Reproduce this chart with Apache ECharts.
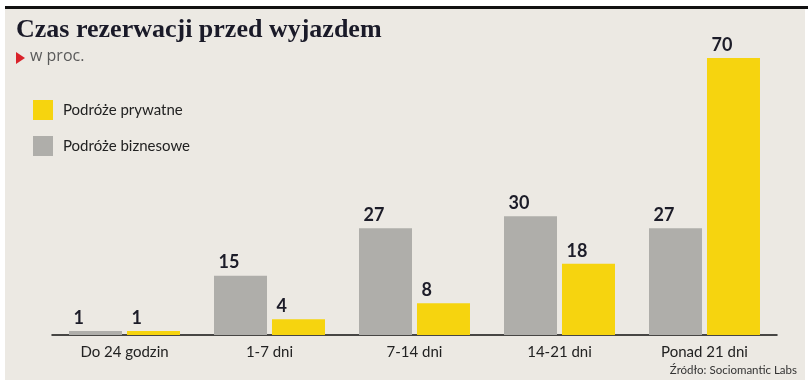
<!DOCTYPE html>
<html><head><meta charset="utf-8">
<script src="https://cdn.jsdelivr.net/npm/echarts@6/dist/echarts.min.js"></script>
<style>html,body{margin:0;padding:0;background:#fff;}#c{width:812px;height:383px;}</style>
</head><body><div id="c"></div>
<script>
const categories = ['Do 24 godzin', '1-7 dni', '7-14 dni', '14-21 dni', 'Ponad 21 dni'];
const business = [1, 15, 27, 30, 27];
const privateTrips = [1, 4, 8, 18, 70];
const seriesNames = ['Podróże biznesowe', 'Podróże prywatne'];
const titleText = 'Czas rezerwacji przed wyjazdem';
const subtitleText = 'w proc.';
const sourceText = 'Źródło: Sociomantic Labs';

const chart = echarts.init(document.getElementById('c'), null, {renderer: 'canvas'});
const labelStyle = {show: true, position: 'top', align: 'left', offset: [-22, 0], distance: 4, fontFamily: 'Lato, "Noto Sans", sans-serif', fontWeight: 'bold', fontSize: 18, color: '#1c1c28'};
chart.setOption({
  animation: false,
  graphic: [
    {type: 'rect', z: -10, shape: {x: 5, y: 9, width: 800, height: 371}, style: {fill: '#ece9e3'}},
    {type: 'rect', z: 10, shape: {x: 5, y: 6, width: 803, height: 3}, style: {fill: '#111'}},
    {type: 'text', left: 16, top: 17, style: {text: titleText, font: 'bold 26px "Liberation Serif", serif', fill: '#1a1a28'}},
    {type: 'polygon', shape: {points: [[16, 52], [25, 58], [16, 64]]}, style: {fill: '#d9222a'}},
    {type: 'text', left: 30, top: 48, style: {text: subtitleText, font: '16px "Open Sans", sans-serif', fill: '#5a5a5a'}},
    {type: 'text', x: 797, y: 364, style: {text: sourceText, align: 'right', verticalAlign: 'top', font: '11.5px Lato, sans-serif', fill: '#333'}}
  ],
  legend: {
    data: ['Podróże prywatne', 'Podróże biznesowe'],
    orient: 'vertical', left: 28, top: 95,
    itemWidth: 20, itemHeight: 20, itemGap: 16, icon: 'rect',
    textStyle: {fontFamily: 'Lato, "Noto Sans", sans-serif', fontSize: 15, color: '#222', padding: [0, 0, 0, 5]}
  },
  grid: {left: 52, right: 35, top: 58, bottom: 48},
  xAxis: {
    type: 'category', data: categories,
    axisLine: {lineStyle: {color: '#111', width: 1.5}},
    axisTick: {show: false},
    axisLabel: {fontFamily: 'Lato, "Noto Sans", sans-serif', fontSize: 15, color: '#222', margin: 10}
  },
  yAxis: {type: 'value', min: 0, max: 70, show: false, splitLine: {show: false}},
  series: [
    {name: seriesNames[0], type: 'bar', data: business, barWidth: 53, barGap: '9.4%', itemStyle: {color: '#afaeaa'}, label: labelStyle},
    {name: seriesNames[1], type: 'bar', data: privateTrips, barWidth: 53, itemStyle: {color: '#f6d40f'}, label: labelStyle}
  ]
});
</script></body></html>
